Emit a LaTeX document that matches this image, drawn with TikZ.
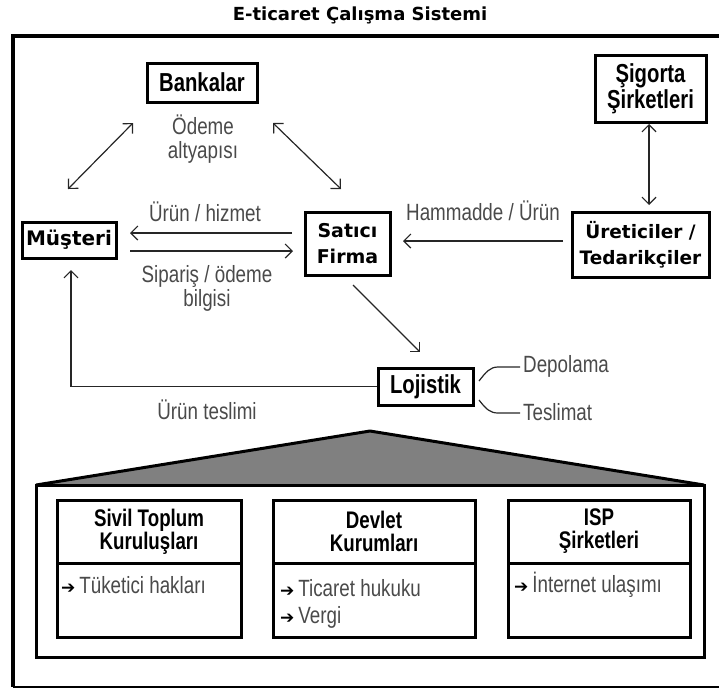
\documentclass[tikz,border=0pt]{standalone}
\usepackage{fontspec}
\usetikzlibrary{arrows.meta}
\newfontfamily\narrowfont{Liberation Sans}[FakeStretch=0.78]
\newfontfamily\labelfont{Liberation Sans}[FakeStretch=0.8]
\newfontfamily\widefont{DejaVu Sans}
\definecolor{labelgray}{HTML}{4A4A4A}
\definecolor{roofgray}{HTML}{808080}
% small black arrow in front of each item
\newcommand\itemarrow{{\widefont\bfseries\fontsize{17}{17}\selectfont\color{black}➔}\,}
\begin{document}
\begin{tikzpicture}[x=1pt,y=-1pt,
  box/.style={draw=black,line width=3pt,fill=white,inner sep=0pt,align=center},
  nbox/.style={box,font=\narrowfont\bfseries\fontsize{26}{26}\selectfont},
  wbox/.style={box,font=\widefont\bfseries\fontsize{19}{26}\selectfont},
  lbl/.style={font=\labelfont\fontsize{23.5}{24}\selectfont,text=labelgray,inner sep=0pt,align=center},
  bullet/.style={lbl,anchor=west},
  link/.style={draw=black!85,line width=1.2pt},
  tip/.style={-{Straight Barb[length=7pt,width=14pt,line width=1.2pt]}},
  both/.style={{Straight Barb[length=7pt,width=14pt,line width=1.2pt]}-{Straight Barb[length=7pt,width=14pt,line width=1.2pt]}},
  subhead/.style={box,minimum height=63pt,font=\narrowfont\bfseries\fontsize{24}{23}\selectfont},
  subbody/.style={box,minimum height=74pt}
]
\useasboundingbox (0,0) rectangle (719,689);

% title and outer frame
\node[font=\widefont\bfseries\fontsize{18}{20}\selectfont] (title) at (360,15) {E-ticaret Çalışma Sistemi};
\draw[line width=3.2pt] (719,36) -- (13,36) -- (13,687);
\draw[line width=2pt] (13,687) -- (719,687);

% actors
\node[nbox,minimum width=110pt,minimum height=39pt] (bank) at (202,82.5) {Bankalar};
\node[nbox,minimum width=111pt,minimum height=67pt] (sig) at (650.5,88.5) {Şigorta\\Şirketleri};
\node[wbox,minimum width=94pt,minimum height=36pt,font=\widefont\bfseries\fontsize{20}{26}\selectfont] (mus) at (69,240) {Müşteri};
\node[wbox,minimum width=85pt,minimum height=63pt] (sat) at (347.5,243.5) {Satıcı\\Firma};
\node[wbox,minimum width=137pt,minimum height=65pt,font=\widefont\bfseries\fontsize{18.5}{26}\selectfont] (ure) at (640.5,244.5) {Üreticiler /\\Tedarikçiler};
\node[nbox,minimum width=95pt,minimum height=37pt] (loj) at (425.5,386.5) {Lojistik};

% arrow end points
\coordinate (bmA) at (133,123);
\coordinate (bmB) at (68,189);
\coordinate (bsA) at (273,123);
\coordinate (bsB) at (341,189);
\coordinate (suA) at (649,124);
\coordinate (suB) at (649,205);
\coordinate (smA) at (292,233);
\coordinate (smB) at (130,233);
\coordinate (msA) at (130,251);
\coordinate (msB) at (293,251);
\coordinate (usA) at (563,241);
\coordinate (usB) at (403,241);
\coordinate (slA) at (353,285);
\coordinate (slB) at (420,352);
\coordinate (lmB) at (71,270);
\coordinate (dpA) at (479,381);
\coordinate (dpB) at (520,367);
\coordinate (tsA) at (479,400);
\coordinate (tsB) at (520,413);

% connectors
\draw[link,both] (bmA) -- (bmB);
\draw[link,both] (bsA) -- (bsB);
\draw[link,both] (suA) -- (suB);
\draw[link,tip] (smA) -- (smB);
\draw[link,tip] (msA) -- (msB);
\draw[link,tip] (usA) -- (usB);
\draw[link,tip] (slA) -- (slB);
\draw[link,tip] (loj.west) -| (lmB);
\draw[link] (dpA) .. controls (486,372) and (490,367) .. (498,367) -- (dpB);
\draw[link] (tsA) .. controls (486,409) and (490,413) .. (498,413) -- (tsB);

% connector labels
\node[lbl] (odeme) at (203,139) {Ödeme\\altyapısı};
\node[lbl] (urhiz) at (205,212) {Ürün / hizmet};
\node[lbl] (sipar) at (207,288) {Sipariş / ödeme\\bilgisi};
\node[lbl] (hamm) at (483,211) {Hammadde / Ürün};
\node[lbl] (teslimi) at (207,410) {Ürün teslimi};
\node[bullet] (depo) at (523,366) {Depolama};
\node[bullet] (tesl) at (523,412) {Teslimat};

% roof over the institutions
\coordinate (apex) at (370,431);
\coordinate (roofL) at (36,485);
\coordinate (roofR) at (704,485);
\fill[roofgray] (roofL) -- (apex) -- (roofR) -- cycle;
\draw[line width=3pt,line join=round] (roofL) -- (apex) -- (roofR);

% institutions
\node[box,minimum width=668pt,minimum height=172pt] (cont) at (370,571) {};
\node[subhead,minimum width=184pt] (s1h) at (149,531.5) {Sivil Toplum\\Kuruluşları};
\node[subbody,minimum width=184pt] (s1b) at (149,600) {};
\node[subhead,minimum width=202pt] (s2h) at (374,531.5) {Devlet\\Kurumları};
\node[subbody,minimum width=202pt] (s2b) at (374,600) {};
\node[subhead,minimum width=182pt] (s3h) at (599,531.5) {ISP\\Şirketleri};
\node[subbody,minimum width=182pt] (s3b) at (599,600) {};

\node[bullet] (b1) at (61,585) {\itemarrow Tüketici hakları};
\node[bullet] (b2) at (280,588) {\itemarrow Ticaret hukuku};
\node[bullet] (b3) at (280,617) {\itemarrow Vergi};
\node[bullet] (b4) at (514,585) {\itemarrow İnternet ulaşımı};
\end{tikzpicture}
\end{document}
